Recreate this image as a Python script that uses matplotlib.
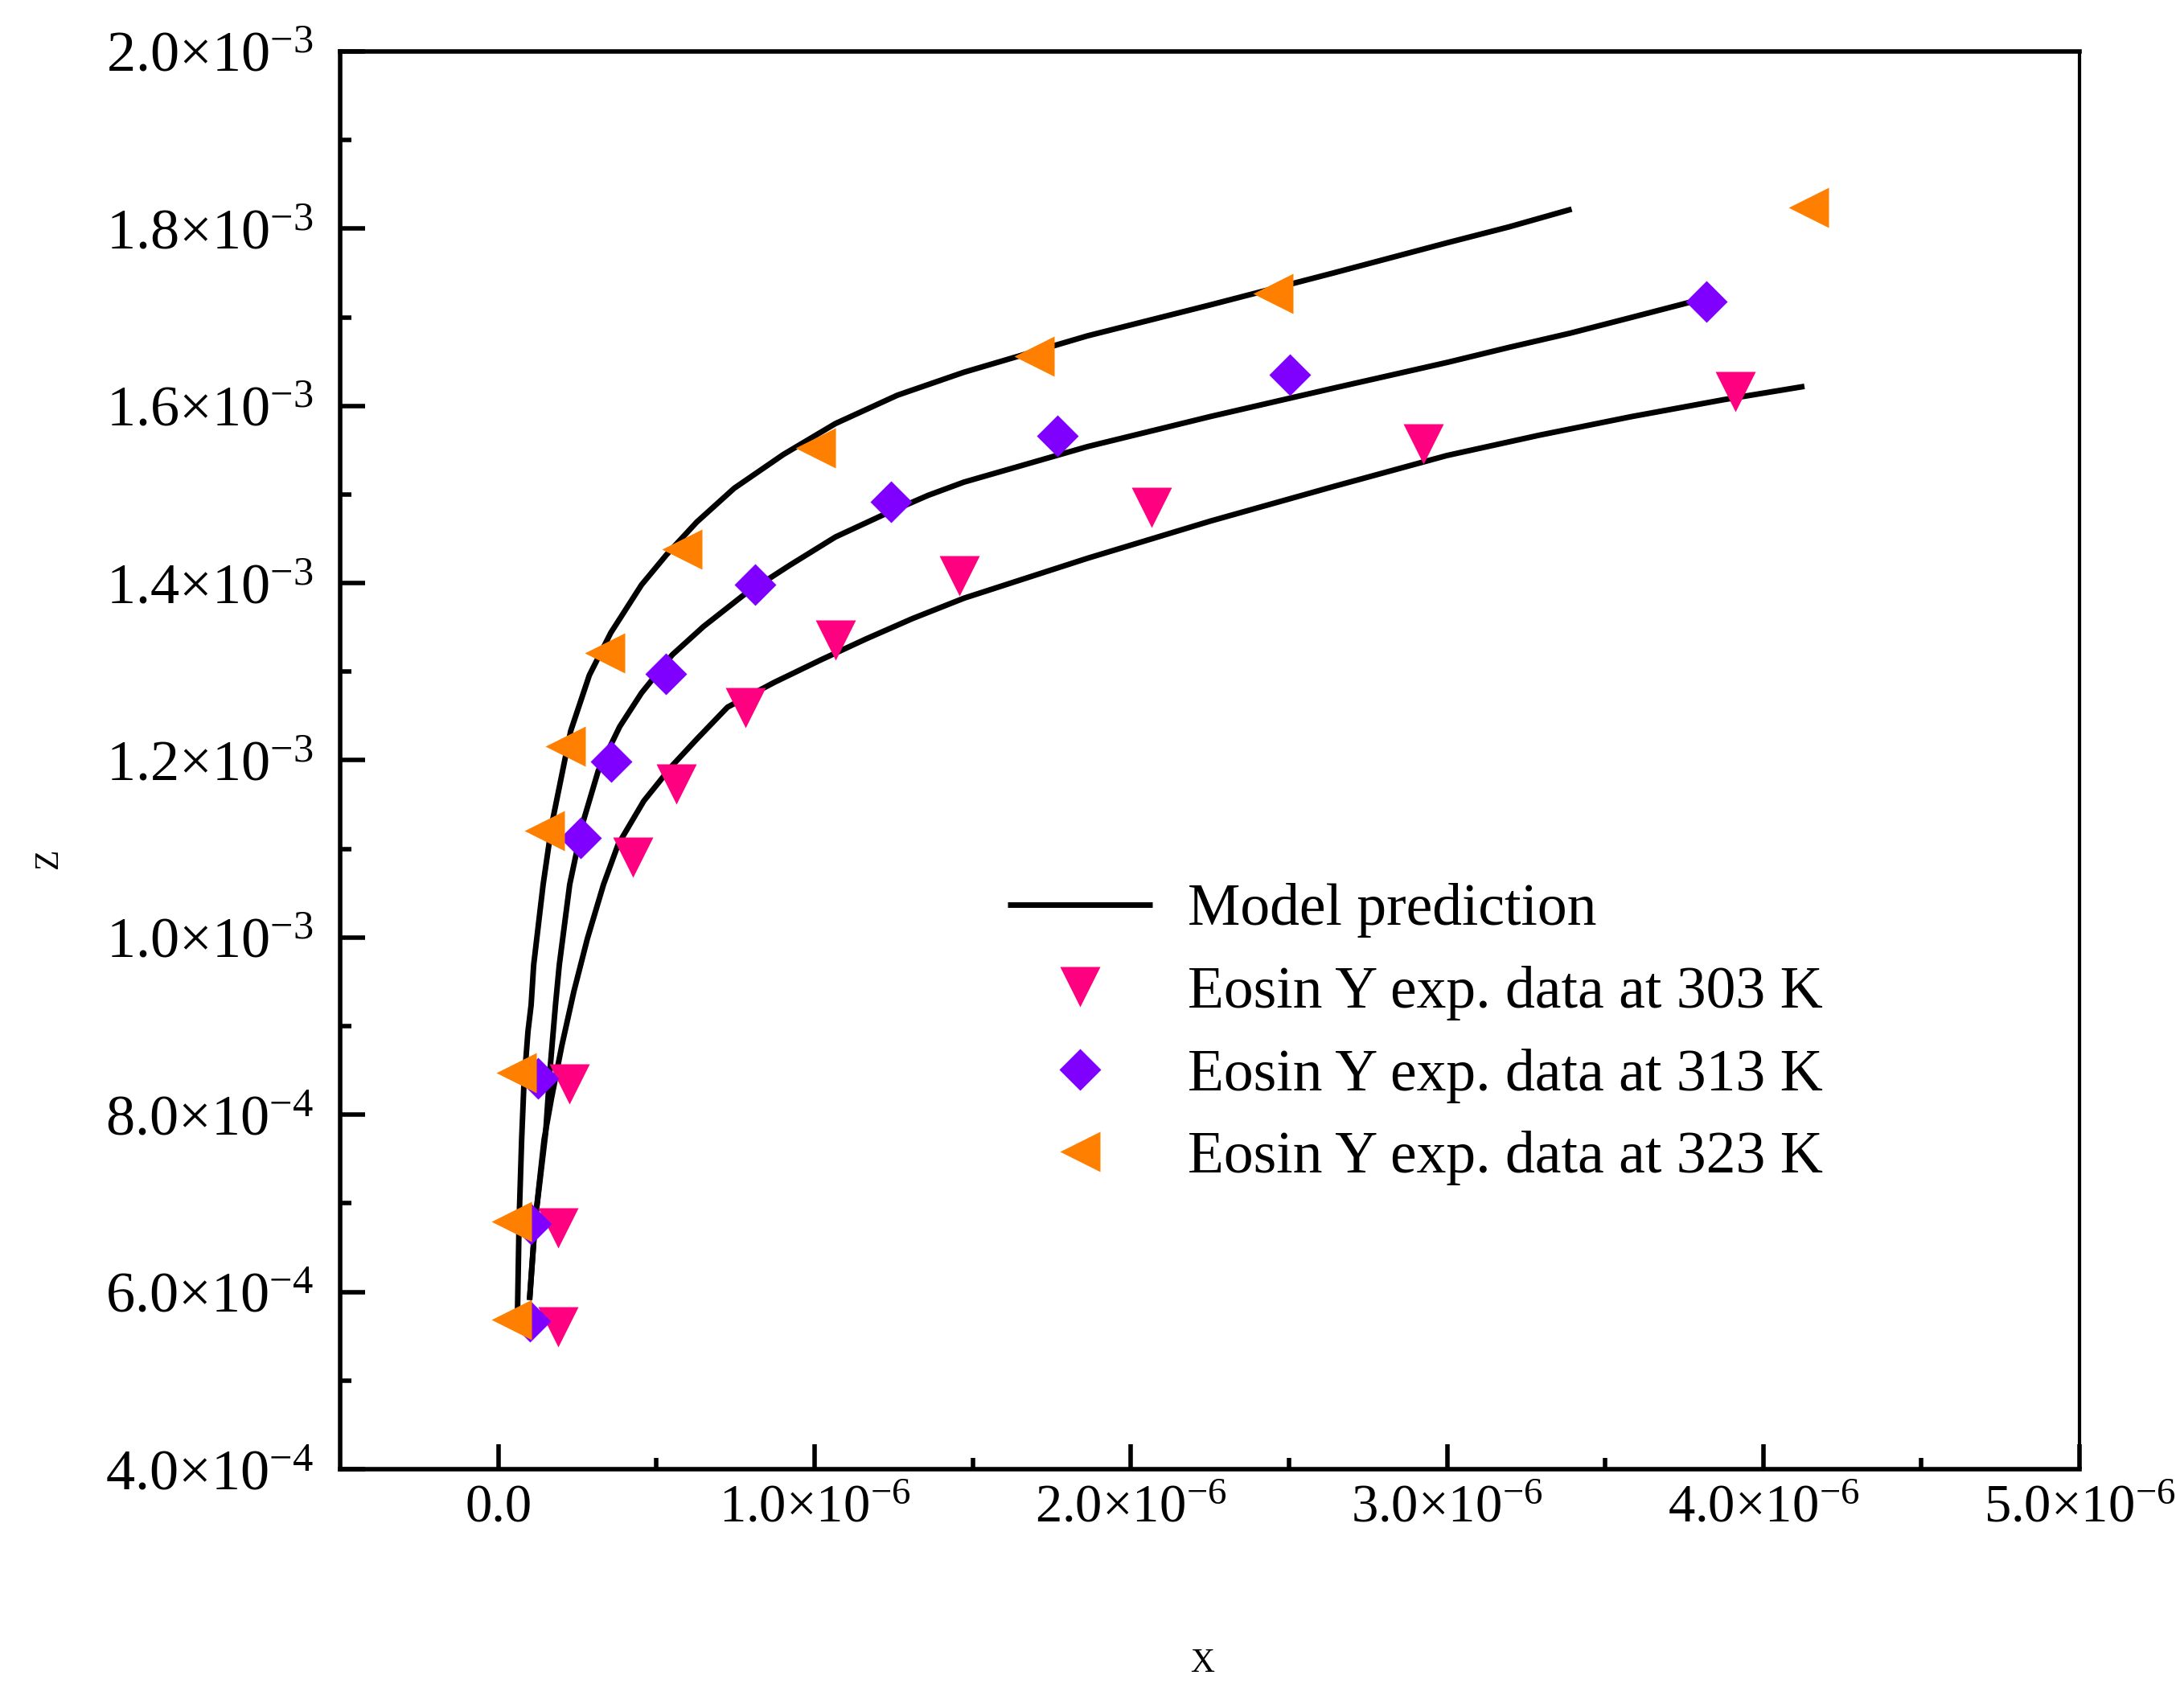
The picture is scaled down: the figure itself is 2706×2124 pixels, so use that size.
import matplotlib
matplotlib.use("Agg")
import matplotlib.pyplot as plt
from matplotlib.ticker import FixedLocator, MultipleLocator, FuncFormatter

plt.rcParams['font.family'] = ['Liberation Serif', 'DejaVu Serif']
plt.rcParams['mathtext.fontset'] = 'custom'
plt.rcParams['mathtext.rm'] = 'Liberation Serif'
plt.rcParams['mathtext.it'] = 'Liberation Serif:italic'

# experimental data (x in 1e-6, z in 1e-3)
x303 = [0.188, 0.188, 0.224, 0.425, 0.562, 0.781, 1.066, 1.458, 2.066, 2.924, 3.911]
z303 = [0.561, 0.672, 0.835, 1.091, 1.173, 1.259, 1.336, 1.408, 1.485, 1.557, 1.616]
x313 = [0.099, 0.102, 0.125, 0.260, 0.356, 0.529, 0.812, 1.242, 1.768, 2.504, 3.819]
z313 = [0.567, 0.677, 0.841, 1.112, 1.199, 1.298, 1.398, 1.492, 1.566, 1.635, 1.718]
x323 = [0.041, 0.041, 0.058, 0.145, 0.211, 0.336, 0.580, 1.003, 1.695, 2.450, 4.143]
z323 = [0.569, 0.680, 0.847, 1.121, 1.216, 1.321, 1.438, 1.553, 1.656, 1.727, 1.824]

# model prediction curves
mx323 = [0.061, 0.066, 0.074, 0.081, 0.094, 0.104, 0.112, 0.142, 0.170, 0.229,
         0.288, 0.356, 0.453, 0.532, 0.628, 0.746, 0.901, 1.066, 1.262, 1.473,
         1.863, 2.252, 2.641, 3.000, 3.196, 3.394]
mz323 = [0.579, 0.681, 0.772, 0.833, 0.894, 0.924, 0.969, 1.060, 1.129, 1.233,
         1.296, 1.344, 1.398, 1.432, 1.469, 1.507, 1.545, 1.580, 1.612, 1.638,
         1.679, 1.714, 1.750, 1.784, 1.802, 1.822]
mx313 = [0.099, 0.117, 0.150, 0.163, 0.181, 0.193, 0.226, 0.267, 0.316, 0.384,
         0.453, 0.550, 0.649, 0.774, 0.921, 1.066, 1.211, 1.359, 1.473, 1.863,
         2.252, 2.641, 3.000, 3.196, 3.389, 3.585, 3.790]
mz313 = [0.591, 0.681, 0.780, 0.848, 0.924, 0.969, 1.060, 1.129, 1.188, 1.238,
         1.276, 1.319, 1.351, 1.386, 1.420, 1.452, 1.476, 1.499, 1.514, 1.554,
         1.588, 1.620, 1.649, 1.666, 1.682, 1.700, 1.719]
mx303 = [0.099, 0.117, 0.145, 0.168, 0.201, 0.239, 0.282, 0.333, 0.379, 0.460,
         0.550, 0.628, 0.725, 0.873, 1.018, 1.163, 1.310, 1.473, 1.863, 2.252,
         2.641, 3.000, 3.293, 3.585, 3.875, 4.130]
mz303 = [0.591, 0.681, 0.772, 0.818, 0.878, 0.939, 0.999, 1.060, 1.105, 1.154,
         1.194, 1.224, 1.260, 1.288, 1.313, 1.337, 1.360, 1.383, 1.428, 1.470,
         1.509, 1.544, 1.567, 1.588, 1.607, 1.622]

XU = 1e-6
ZU = 1e-3

def sc(vals, u):
    return [v * u for v in vals]

fig = plt.figure(figsize=(13.53, 10.62), dpi=200)
ax = fig.add_axes([0.1563, 0.1398, 0.7994, 0.8301])

lw = 2.5
ax.plot(sc(mx323, XU), sc(mz323, ZU), color='black', lw=lw, label='Model prediction',
        zorder=2, solid_capstyle='butt')
ax.plot(sc(mx313, XU), sc(mz313, ZU), color='black', lw=lw, zorder=2, solid_capstyle='butt')
ax.plot(sc(mx303, XU), sc(mz303, ZU), color='black', lw=lw, zorder=2, solid_capstyle='butt')

ax.plot(sc(x303, XU), sc(z303, ZU), 'v', color='#FF0080', ms=18, mec='none',
        label='Eosin Y exp. data at 303 K', zorder=3)
ax.plot(sc(x313, XU), sc(z313, ZU), 'D', color='#8000FF', ms=13, mec='none',
        label='Eosin Y exp. data at 313 K', zorder=4)
ax.plot(sc(x323, XU), sc(z323, ZU), '<', color='#FF8000', ms=18, mec='none',
        label='Eosin Y exp. data at 323 K', zorder=5)

ax.set_xlim(-0.5e-6, 5.0e-6)
ax.set_ylim(4.0e-4, 2.0e-3)

ax.xaxis.set_major_locator(FixedLocator([i * 1e-6 for i in range(6)]))
ax.xaxis.set_minor_locator(FixedLocator([(i + 0.5) * 1e-6 for i in range(5)]))
ax.yaxis.set_major_locator(MultipleLocator(2e-4))
ax.yaxis.set_minor_locator(MultipleLocator(1e-4))

def fmt_x(v, pos):
    m = v / 1e-6
    if abs(m) < 1e-9:
        return '0.0'
    return r'$\mathregular{%.1f{\times}10^{-6}}$' % m

def fmt_y(v, pos):
    if v >= 9.99e-4:
        return r'$\mathregular{%.1f{\times}10^{-3}}$' % (v / 1e-3)
    return r'$\mathregular{%.1f{\times}10^{-4}}$' % (v / 1e-4)

ax.xaxis.set_major_formatter(FuncFormatter(fmt_x))
ax.yaxis.set_major_formatter(FuncFormatter(fmt_y))

ax.tick_params(which='both', direction='in', width=2.0, top=False, right=False)
ax.tick_params(which='major', length=11)
ax.tick_params(which='minor', length=5)
ax.tick_params(axis='x', pad=6.5, labelsize=24)
ax.tick_params(axis='y', pad=12, labelsize=26)

for s in ['left', 'bottom', 'top']:
    ax.spines[s].set_linewidth(2.0)
ax.spines['right'].set_linewidth(1.5)

fig.text(0.5525, 0.026, 'X', fontsize=15, ha='center', va='center')
fig.text(0.0225, 0.4975, 'Z', fontsize=15, ha='center', va='center', rotation=90)

ax.legend(loc='upper left', bbox_to_anchor=(0.370, 0.43), frameon=False,
          fontsize=26.5, handlelength=2.45, handletextpad=0.6, labelspacing=0.47,
          borderaxespad=0)

fig.savefig('out.png', dpi=200)
